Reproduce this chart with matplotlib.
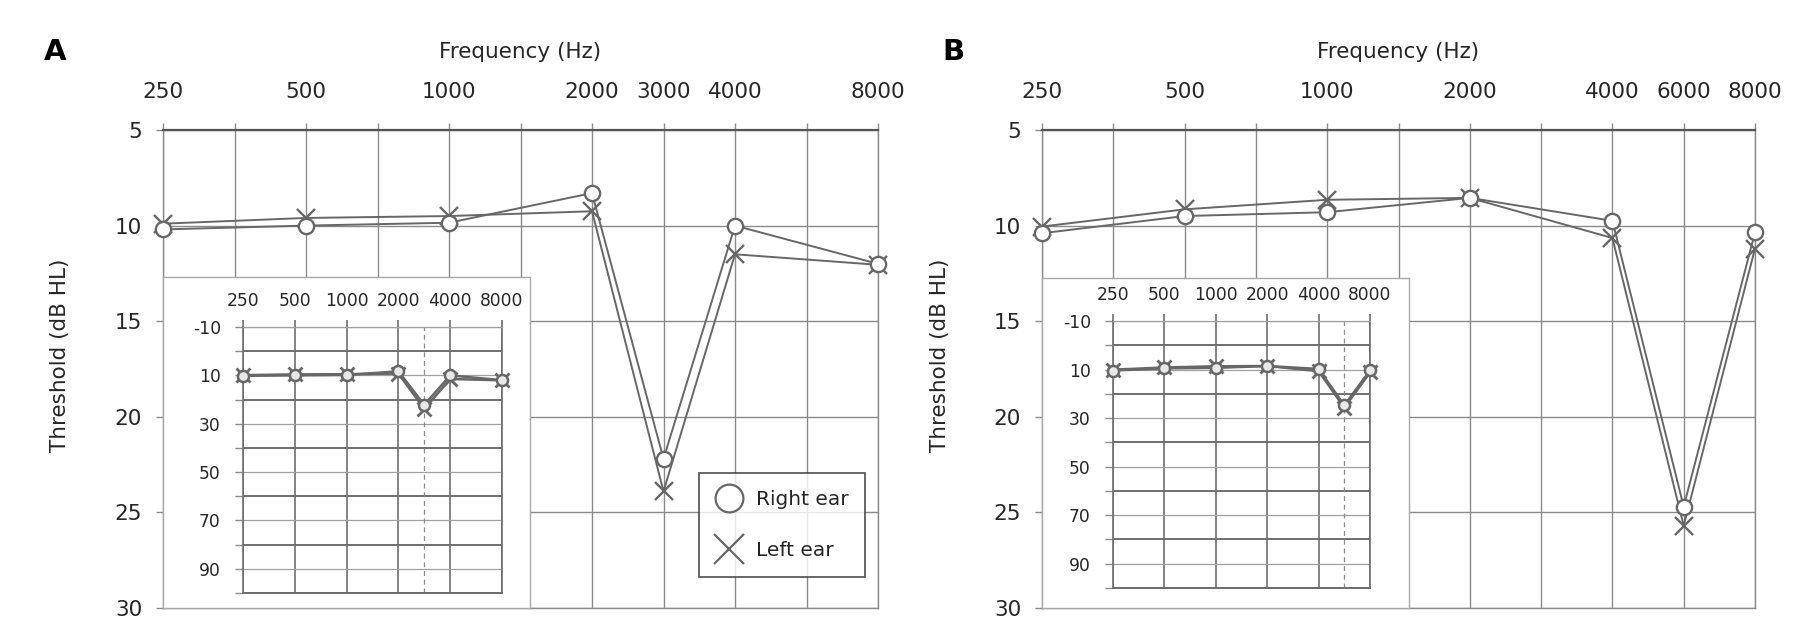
import numpy as np
import matplotlib
matplotlib.use("Agg")
import matplotlib.pyplot as plt
from matplotlib.lines import Line2D

# ---------------- data ----------------
freq_A = [250, 500, 1000, 2000, 3000, 4000, 8000]
right_A = [10.2, 10.0, 9.85, 8.3, 22.2, 10.0, 12.0]
left_A = [9.9, 9.6, 9.5, 9.25, 23.9, 11.5, 12.05]

freq_B = [250, 500, 1000, 2000, 4000, 6000, 8000]
right_B = [10.4, 9.5, 9.3, 8.55, 9.75, 24.7, 10.35]
left_B = [10.05, 9.15, 8.65, 8.55, 10.65, 25.7, 11.2]

main_yticks = [5, 10, 15, 20, 25, 30]
inset_xticks = [250, 500, 1000, 2000, 4000, 8000]
inset_yticks = [-10, 10, 30, 50, 70, 90]
inset_major_y = [0, 20, 40, 60, 80, 100]
legend_labels = ["Right ear", "Left ear"]
xlabel = "Frequency (Hz)"
ylabel = "Threshold (dB HL)"


def slot(f):
    """audiogram slot: octaves above 250 Hz, snapped to half-octaves"""
    return np.round(2 * np.log2(np.asarray(f, dtype=float) / 250.0)) / 2.0


W, H = 1806, 641
plt.rcParams["font.family"] = ["DejaVu Sans"]
plt.rcParams["axes.unicode_minus"] = False
fig = plt.figure(figsize=(W / 100, H / 100), dpi=100)
fig.patch.set_facecolor("white")

GRID = "#8a8a8a"
LINE = "#676767"
TXT = "#262626"
FS = 15.5


def fr(x0, y0, x1, y1):
    return [x0 / W, 1 - y1 / H, (x1 - x0) / W, (y1 - y0) / H]


def draw_main(rect, freqs, r, l, with_legend):
    ax = fig.add_axes(rect, zorder=0)
    ax.set_xlim(0, 5)
    ax.set_ylim(30, 5)
    pos = np.arange(0, 5.01, 0.5)
    fs = slot(freqs)
    labs = []
    for p in pos:
        m = [f for f, s in zip(freqs, fs) if abs(s - p) < 1e-6]
        labs.append(str(m[0]) if m else "")
    ax.set_xticks(pos)
    ax.set_xticklabels(labs)
    ax.xaxis.tick_top()
    ax.tick_params(axis="x", direction="out", length=5, width=1.0, color=GRID,
                   labelsize=FS, labelcolor=TXT, pad=15)
    ax.set_yticks(main_yticks)
    ax.tick_params(axis="y", direction="out", length=5, width=1.0, color=GRID,
                   labelsize=FS, labelcolor=TXT, pad=10)
    ax.grid(True, color=GRID, lw=1.0)
    for s in ax.spines.values():
        s.set_color(GRID)
        s.set_linewidth(1.0)
    ax.spines["top"].set_color("#555555")
    ax.spines["top"].set_linewidth(1.6)
    x = slot(freqs)
    ax.plot(x, l, "-", color=LINE, lw=1.4, marker="x", ms=13, mew=1.7,
            mec=LINE, zorder=3, clip_on=False)
    ax.plot(x, r, "-", color=LINE, lw=1.4, marker="o", ms=11, mew=1.7,
            mec=LINE, mfc="white", zorder=4, clip_on=False)
    if with_legend:
        handles = [Line2D([], [], ls="none", marker="o", ms=20, mew=1.6,
                          mec=LINE, mfc="white"),
                   Line2D([], [], ls="none", marker="x", ms=22, mew=1.6,
                          mec=LINE)]
        leg = ax.legend(handles, legend_labels, loc="upper left",
                        bbox_to_anchor=(0.750, 0.283), borderaxespad=0,
                        fontsize=14.5, frameon=True, fancybox=False,
                        handlelength=1.3, handletextpad=0.65,
                        labelspacing=1.6, borderpad=0.85)
        leg.get_frame().set_edgecolor("#333333")
        leg.get_frame().set_linewidth(1.3)
        for t in leg.get_texts():
            t.set_color(TXT)
        leg.set_zorder(10)
    return ax


def draw_inset(box_rect, rect, freqs, r, l):
    bx = fig.add_axes(box_rect, zorder=1)
    bx.set_xticks([])
    bx.set_yticks([])
    bx.set_facecolor("white")
    for s in bx.spines.values():
        s.set_color("#a8a8a8")
        s.set_linewidth(1.0)
    ax = fig.add_axes(rect, zorder=2)
    ax.set_facecolor("none")
    ax.set_xlim(0, 5)
    ax.set_ylim(100, -10)
    ax.set_xticks(slot(inset_xticks))
    ax.set_xticklabels([str(v) for v in inset_xticks])
    ax.xaxis.tick_top()
    ax.tick_params(axis="x", direction="out", length=5, width=1.2, color="#6e6e6e",
                   labelsize=12.3, labelcolor=TXT, pad=7)
    ax.set_yticks(inset_yticks)
    ax.set_yticks(inset_major_y, minor=True)
    ax.tick_params(axis="y", which="both", direction="out", length=6, width=1.0,
                   color="#8c8c8c", labelsize=12.3, labelcolor=TXT, pad=10)
    ax.grid(True, axis="x", color="#6e6e6e", lw=1.2)
    ax.grid(True, axis="y", which="major", color="#a0a0a0", lw=0.9)
    ax.grid(True, axis="y", which="minor", color="#6e6e6e", lw=1.4)
    for s in ax.spines.values():
        s.set_color("#6e6e6e")
        s.set_linewidth(1.2)
    ax.spines["top"].set_color("#a0a0a0")
    ax.spines["top"].set_linewidth(0.9)
    ax.spines["bottom"].set_linewidth(1.4)
    # dashed line at the inter-octave test frequency
    extra = [f for f in freqs if f not in inset_xticks]
    for f in extra:
        ax.axvline(slot(f), color="#8c8c8c", lw=0.9, ls=(0, (4, 3)))
    x = slot(freqs)
    ax.plot(x, l, "-", color=LINE, lw=1.8, marker="x", ms=10, mew=2.0,
            mec=LINE, zorder=3, clip_on=False)
    ax.plot(x, r, "-", color=LINE, lw=1.8, marker="o", ms=8, mew=1.8,
            mec=LINE, mfc="#e8e8e8", zorder=4, clip_on=False)
    return ax


# ---------------- panel A ----------------
axA = draw_main(fr(163, 130, 878, 608), freq_A, right_A, left_A, True)
draw_inset(fr(163, 277, 530, 608), fr(243, 327, 502, 593), freq_A, right_A, left_A)

# ---------------- panel B ----------------
axB = draw_main(fr(1042, 130, 1755, 608), freq_B, right_B, left_B, False)
draw_inset(fr(1042, 278, 1409, 608), fr(1113, 321, 1370, 588), freq_B, right_B, left_B)

# labels
for cx in [520, 1398]:
    fig.text(cx / W, 1 - 52 / H, xlabel, ha="center", va="center",
             fontsize=FS, color=TXT)
fig.text(60 / W, 1 - 355 / H, ylabel, rotation=90, ha="center", va="center",
         fontsize=FS, color=TXT)
fig.text(940 / W, 1 - 355 / H, ylabel, rotation=90, ha="center", va="center",
         fontsize=FS, color=TXT)
fig.text(55 / W, 1 - 52 / H, "A", ha="center", va="center", fontsize=21,
         fontweight="bold", color="black")
fig.text(953 / W, 1 - 52 / H, "B", ha="center", va="center", fontsize=21,
         fontweight="bold", color="black")

fig.savefig("out.png", dpi=100, facecolor="white")
